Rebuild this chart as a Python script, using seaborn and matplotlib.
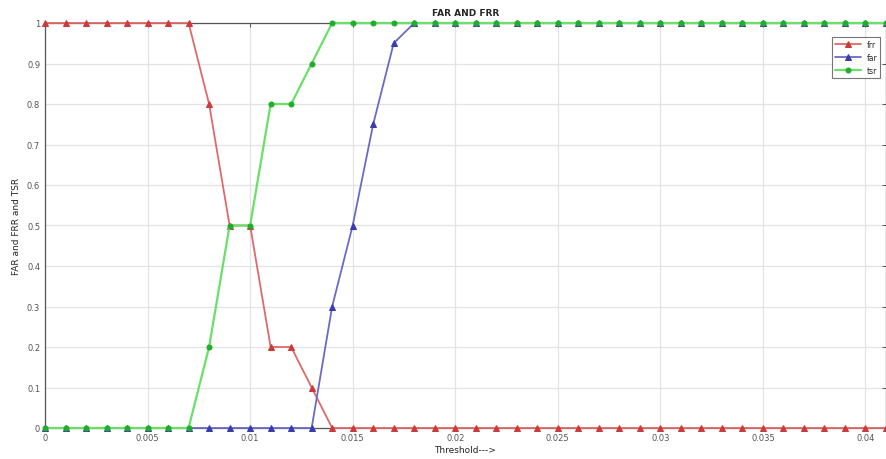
import numpy as np
import pandas as pd
import seaborn as sns
import matplotlib.pyplot as plt
from matplotlib.ticker import FormatStrFormatter, MultipleLocator

# threshold steps 0 .. 0.041
threshold = np.round(np.arange(0, 42) * 0.001, 3)

frr = [1, 1, 1, 1, 1, 1, 1, 1, 0.8, 0.5, 0.5, 0.2, 0.2, 0.1] + [0] * 28
far = [0] * 14 + [0.3, 0.5, 0.75, 0.95] + [1] * 24
tsr = [0, 0, 0, 0, 0, 0, 0, 0, 0.2, 0.5, 0.5, 0.8, 0.8, 0.9] + [1] * 28

df = pd.DataFrame({'threshold': threshold, 'frr': frr, 'far': far, 'tsr': tsr})

sns.set_style("whitegrid")
plt.rcParams['font.family'] = ['DejaVu Sans']

fig = plt.figure(figsize=(8.87, 4.6), dpi=100)
ax = fig.add_axes([45 / 887, 31 / 460, 841 / 887, 405 / 460])

sns.lineplot(data=df, x='threshold', y='frr', ax=ax, color='#de6a6a', lw=1.3,
             marker='^', markersize=4.3, markerfacecolor='#cc3b3b', markeredgecolor='#cc3b3b',
             label='frr', clip_on=False, zorder=3)
sns.lineplot(data=df, x='threshold', y='far', ax=ax, color='#6a6ac8', lw=1.3,
             marker='^', markersize=4.3, markerfacecolor='#3b3bb0', markeredgecolor='#3b3bb0',
             label='far', clip_on=False, zorder=4)
sns.lineplot(data=df, x='threshold', y='tsr', ax=ax, color='#6ae06a', lw=1.6,
             marker='o', markersize=3.6, markerfacecolor='#1fae2a', markeredgecolor='#1fae2a',
             label='tsr', clip_on=False, zorder=5)

ax.set_xlim(0, 0.041)
ax.set_ylim(0, 1)
ax.xaxis.set_major_locator(MultipleLocator(0.005))
ax.yaxis.set_major_locator(MultipleLocator(0.1))
ax.xaxis.set_major_formatter(FormatStrFormatter('%g'))
ax.yaxis.set_major_formatter(FormatStrFormatter('%g'))

ax.grid(True, color='#e3e3e3', lw=0.9)
for s in ax.spines.values():
    s.set_color('#555555')
    s.set_linewidth(0.9)
ax.tick_params(direction='in', length=3, width=0.7, colors='#555555', labelsize=6,
               top=True, right=True, labelcolor='#555555')

ax.set_title('FAR AND FRR', fontsize=6.5, fontweight='bold', pad=6)
ax.set_xlabel('Threshold--->', fontsize=6.5, labelpad=2)
ax.set_ylabel('FAR and FRR and TSR', fontsize=6.5, labelpad=4)

leg = ax.legend(loc='upper right', fontsize=5.5, frameon=True, fancybox=False,
                edgecolor='#555555', borderpad=0.4, handlelength=3.4,
                bbox_to_anchor=(0.998, 0.975))
leg.get_frame().set_linewidth(0.8)
leg.set_zorder(10)

fig.savefig('out.png', dpi=100)
